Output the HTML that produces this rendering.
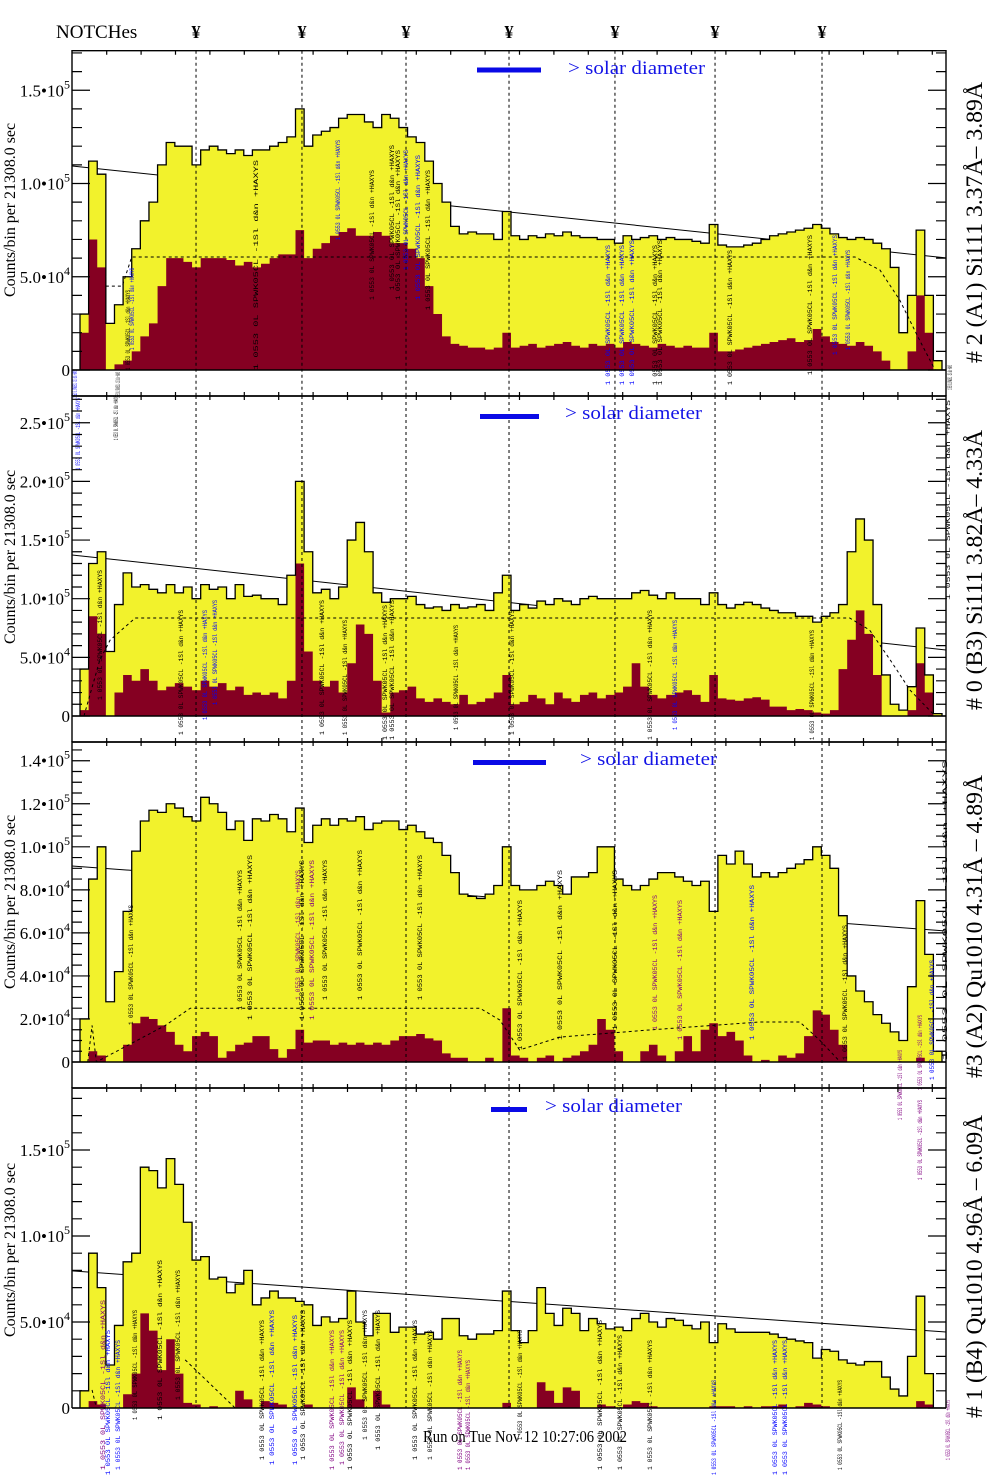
<!DOCTYPE html>
<html><head><meta charset="utf-8"><title>NOTCHes spectra</title>
<style>
html,body{margin:0;padding:0;background:#fff;}
svg{display:block;font-family:"Liberation Serif",serif;}
</style></head>
<body>
<svg id="chart" xmlns="http://www.w3.org/2000/svg" width="1004" height="1477" viewBox="0 0 1004 1477">
<rect x="0" y="0" width="1004" height="1477" fill="#fff"/>
<text x="56" y="38" font-size="19">NOTCHes</text>
<text x="423" y="1442" font-size="17" textLength="204" lengthAdjust="spacingAndGlyphs">Run on Tue Nov 12 10:27:06 2002</text>
</svg>
<script>
// ---------- data (counts in thousands, one value per channel bin) ----------
const notchBins = [13.46,25.75,37.82,49.77,62.06,73.67,86.08];

const p1Yellow = [30,112,105,25,35,50,65,80,90,110, 122,120,120,110,118,120,118,116,118,115, 118,118,120,122,125,140,120,126,128,130, 135,137,137,133,130,137,135,130,125,122, 112,100,90,77,73,74,73,73,70,85, 72,70,72,71,73,72,74,72,71,71, 70,70,68,72,70,71,72,70,71,70, 70,69,68,78,67,66,66,67,68,70, 72,73,74,75,76,78,76,73,71,70, 71,70,68,65,55,20,40,75,40,5];
const p1Maroon = [20,70,55,0,3,5,10,18,25,45, 60,60,58,55,60,60,60,59,56,58, 55,57,60,62,62,75,60,65,68,72, 74,76,72,72,74,72,68,68,65,60, 45,30,18,14,13,12,12,11,12,20, 12,13,14,12,13,14,15,13,12,14, 13,14,12,15,14,13,12,14,13,12, 13,12,12,20,10,10,11,12,13,14, 15,16,17,15,16,22,18,15,14,13, 15,13,10,5,0,0,10,40,20,0];
const p1Fit = [109.4,60.1];
const p1RefX = [3.0,4.9,6.0,89.9,92.8,95.1,97.4,99.2];
const p1RefY = [45,45,60.6,60.6,53.6,37.5,16,0];

const p2Yellow = [40,130,140,55,95,122,110,112,108,105, 112,105,110,100,112,108,110,100,112,102, 103,100,100,95,120,200,140,105,108,100, 110,150,165,140,105,97,100,100,102,95, 92,93,90,95,92,93,95,90,105,120, 90,95,92,98,95,100,98,95,100,102, 100,100,100,100,105,107,103,100,105,100, 100,100,95,105,95,92,95,97,95,92, 90,88,88,85,85,80,85,88,95,140, 168,150,95,35,10,5,25,75,35,2];
const p2Maroon = [5,85,70,0,20,35,30,40,30,22, 25,28,25,22,30,25,28,22,25,18, 20,18,20,15,30,130,55,30,25,30, 20,45,78,70,30,3,20,22,25,15, 12,15,12,10,18,10,12,15,20,35, 10,12,18,15,10,20,15,12,18,20, 15,18,20,25,45,25,18,15,18,20, 22,18,12,35,15,14,13,15,16,14, 8,8,5,6,5,3,2,5,40,65, 90,70,35,0,0,0,5,45,20,0];
const p2Fit = [137.3,56.3];
const p2RefX = [0.46,2.3,3.5,6.4,89.3,91.6,94,96.3,99.2];
const p2RefY = [0,47.7,64.8,83.5,83.5,73.3,47.7,22,0];

const p3Yellow = [20,85,100,28,42,70,98,112,117,116, 120,118,114,112,123,120,116,108,112,103, 113,112,115,113,107,118,102,110,113,110, 113,112,114,108,111,112,112,108,110,107, 104,102,96,88,78,77,76,78,82,100, 82,80,80,82,84,82,78,86,86,88, 100,100,85,82,80,82,85,88,88,86, 84,82,84,70,96,92,98,92,86,88, 86,88,90,92,94,100,96,90,68,40, 33,28,22,18,14,10,35,75,50,5];
const p3Maroon = [0,5,3,0,0,8,18,21,20,17, 14,8,5,12,14,12,2,5,8,9, 12,12,6,2,6,15,9,10,10,8, 9,8,9,8,9,8,10,12,12,13, 11,10,4,2,2,0,0,2,0,25, 3,2,0,2,3,0,2,3,5,8, 20,15,5,0,0,5,8,3,0,5, 12,5,15,18,12,14,10,3,0,1, 0,3,2,4,12,24,22,15,8,0, 0,0,0,0,0,0,0,2,0,0];
const p3Fit = [91.1,60.9];
const p3RefX = [0.9,1.4,1.9,9.9,12.8,46.4,48.7,51,55.7,66.1,78.9,83.5,85.8,88.2];
const p3RefY = [0,17,0,17,25,25,19.5,5.6,11.6,14.9,18.6,18.6,10.2,0];

const p4Yellow = [10,90,70,25,48,85,90,140,138,128, 145,130,108,86,88,75,76,67,72,80, 60,64,68,64,64,62,60,48,53,50, 52,68,50,42,55,55,44,47,47,43, 44,40,52,52,42,40,43,43,45,68, 45,38,45,70,55,48,58,55,45,52, 49,46,47,45,52,55,50,47,52,51, 48,46,50,38,49,46,44,44,44,44, 43,41,40,39,38,29,34,33,28,26, 25,27,27,18,11,7,30,65,20,0];
const p4Maroon = [0,4,2,0,0,8,20,55,45,22, 40,20,3,2,0,1,0,0,10,5, 0,4,3,2,0,0,2,0,0,0, 0,12,5,0,10,2,0,0,0,0, 0,0,0,0,0,0,0,0,0,3, 0,0,0,15,10,3,12,10,0,0, 2,1,0,2,4,3,1,0,0,0, 0,0,0,1,1,1,0,1,0,1, 1,2,0,1,3,2,1,0,0,0, 0,0,0,0,0,0,0,4,2,0];
const p4Fit = [79.7,44.2];
const p4RefX = [1.4,1.9,null,12.2,18];
const p4RefY = [10.5,0,null,28,0];

const titles = ["# 2 (A1) Si111  3.37\u00c5\u2013 3.89\u00c5","# 0 (B3) Si111  3.82\u00c5\u2013 4.33\u00c5","#3 (A2) Qu1010  4.31\u00c5 \u2013 4.89\u00c5","# 1 (B4) Qu1010 4.96\u00c5 \u2013 6.09\u00c5"];
const yTitle = "Counts/bin per  21308.0 sec";

// ---------- layout (not data) ----------
const L = 72, R = 946;
const layouts = [
 {top:50.7, bottom:396, zero:370, ppk:1.865, minor:10, major:50, max:172, tc:[82,363], yt:210, bar:[477,541,70], leg:[568,74]},
 {top:396, bottom:742, zero:716, ppk:1.173, minor:10, major:50, max:272, tc:[430,710], yt:557, bar:[480,539,416.5], leg:[565,419]},
 {top:742, bottom:1088, zero:1062, ppk:2.152, minor:5, major:20, max:148, tc:[775,1078], yt:902, bar:[473,546,762.5], leg:[580,765]},
 {top:1088, bottom:1408, zero:1408, ppk:1.72, minor:10, major:50, max:186, tc:[1115,1418], yt:1250, bar:[491,527,1109.5], leg:[545,1112]}
];
const series = [
 [p1Yellow,p1Maroon,p1Fit,p1RefX,p1RefY],
 [p2Yellow,p2Maroon,p2Fit,p2RefX,p2RefY],
 [p3Yellow,p3Maroon,p3Fit,p3RefX,p3RefY],
 [p4Yellow,p4Maroon,p4Fit,p4RefX,p4RefY]
];
const annotLayout = [
 [[75,398,370,'b'],[118,398,372,'k'],[128,370,290,'k'],[132,350,268,'b'],[256,370,160,'k'],[338,240,140,'b'],[372,300,170,'k'],[392,290,145,'k'],[398,300,150,'k'],[406,270,150,'b'],[418,300,155,'b'],[428,310,170,'k'],[608,385,245,'b'],[622,385,245,'b'],[632,385,240,'b'],[655,385,245,'k'],[660,385,240,'k'],[730,385,250,'k'],[810,375,235,'k'],[835,355,235,'b'],[848,350,250,'b'],[950,390,365,'k']],
 [[78,470,398,'b'],[116,440,396,'k'],[100,700,570,'k'],[181,735,610,'k'],[205,720,610,'b'],[215,705,600,'b'],[322,735,600,'k'],[345,735,620,'k'],[385,740,605,'k'],[392,740,600,'k'],[456,730,625,'k'],[512,735,610,'k'],[650,740,610,'k'],[675,730,620,'b'],[812,740,630,'k'],[948,600,400,'k']],
 [[131,1025,905,'k'],[240,1010,870,'k'],[250,1020,855,'k'],[298,1000,870,'p'],[302,1020,860,'k'],[312,1020,860,'p'],[325,1000,860,'k'],[360,1000,850,'k'],[420,1000,855,'k'],[520,1050,900,'k'],[560,1040,870,'k'],[615,1030,870,'k'],[655,1030,895,'p'],[680,1040,900,'p'],[752,1040,885,'b'],[845,1060,925,'k'],[900,1120,1050,'p'],[920,1090,1015,'p'],[932,1080,960,'b'],[945,1060,760,'k']],
 [[103,1470,1300,'p'],[108,1475,1330,'b'],[118,1470,1340,'b'],[135,1420,1310,'k'],[160,1420,1260,'k'],[178,1400,1270,'k'],[262,1460,1320,'k'],[272,1465,1310,'b'],[295,1465,1315,'b'],[303,1460,1310,'k'],[332,1470,1330,'p'],[342,1465,1330,'p'],[350,1470,1320,'k'],[365,1440,1310,'k'],[378,1450,1310,'k'],[415,1460,1320,'k'],[430,1460,1330,'k'],[460,1470,1350,'p'],[468,1470,1360,'p'],[520,1440,1330,'k'],[600,1470,1320,'k'],[620,1470,1335,'k'],[650,1470,1340,'k'],[714,1475,1380,'b'],[775,1475,1340,'b'],[785,1475,1340,'b'],[840,1470,1380,'k'],[920,1180,1100,'p'],[948,1460,1400,'p']]
];
const annotColors = {k:'#000000', b:'#0000ff', p:'#800080'};

const svg = document.getElementById('chart');
const NS = 'http://www.w3.org/2000/svg';
function mk(tag, parent){ const e = document.createElementNS(NS, tag); parent.appendChild(e); return e; }
const X = b => 80 + b * 8.62;

function stepPath(vals, Y, close){
  let d = 'M' + X(0) + ',' + Y(0);
  for (let i = 0; i < vals.length; i++){
    d += 'L' + X(i) + ',' + Y(vals[i]) + 'L' + X(i+1) + ',' + Y(vals[i]);
  }
  d += 'L' + X(vals.length) + ',' + Y(0);
  if (close) d += 'Z';
  return d;
}
function fmtLabel(v){
  if (v === 0) return ['0', ''];
  const e = Math.floor(Math.log10(v * 1000));
  const m = (v * 1000) / Math.pow(10, e);
  return [m.toFixed(1) + '\u202210', String(e)];
}

layouts.forEach((lay, p) => {
  const [yel, mar, fit, refX, refY] = series[p];
  const Y = v => lay.zero - v * lay.ppk;
  const g = mk('g', svg);
  
  

  // clip
  const cp = mk('clipPath', g); cp.setAttribute('id', 'clip' + p);
  const cr = mk('rect', cp);
  cr.setAttribute('x', L); cr.setAttribute('y', lay.top); cr.setAttribute('width', R - L); cr.setAttribute('height', lay.zero - lay.top);
  const inner = mk('g', g); inner.setAttribute('clip-path', 'url(#clip' + p + ')');
  
  

  // fit line (behind yellow)
  const fl = mk('line', inner);
  
  
  fl.setAttribute('x1', L); fl.setAttribute('x2', R);
  fl.setAttribute('y1', Y(fit[0])); fl.setAttribute('y2', Y(fit[1]));
  fl.setAttribute('stroke', '#000'); fl.setAttribute('stroke-width', '1');

  const yf = mk('path', inner);
  
  
  yf.setAttribute('d', stepPath(yel, Y, true)); yf.setAttribute('fill', '#f2f22c');

  const mf = mk('path', inner);
  
  
  mf.setAttribute('d', stepPath(mar, Y, true)); mf.setAttribute('fill', '#850022');

  const ol = mk('path', inner);
  
  
  ol.setAttribute('d', stepPath(yel, Y, false)); ol.setAttribute('fill', 'none');
  ol.setAttribute('stroke', '#000'); ol.setAttribute('stroke-width', '1.3');

  // reference dashed curve
  let d = '', pen = false;
  for (let i = 0; i < refX.length; i++){
    if (refX[i] === null){ pen = false; continue; }
    d += (pen ? 'L' : 'M') + X(refX[i]) + ',' + Y(refY[i]); pen = true;
  }
  const rl = mk('path', inner);
  
  
  rl.setAttribute('d', d); rl.setAttribute('fill', 'none'); rl.setAttribute('stroke', '#000');
  rl.setAttribute('stroke-width', '1'); rl.setAttribute('stroke-dasharray', '3,3');

  // notch lines
  notchBins.forEach((nb, k) => {
    const nl = mk('line', g);
    
    
    nl.setAttribute('x1', X(nb)); nl.setAttribute('x2', X(nb));
    nl.setAttribute('y1', lay.top); nl.setAttribute('y2', lay.bottom);
    nl.setAttribute('stroke', '#000'); nl.setAttribute('stroke-width', '1'); nl.setAttribute('stroke-dasharray', '3,3');
    if (p === 0){
      const yt = mk('text', svg);
      
      
      yt.setAttribute('x', X(nb)); yt.setAttribute('y', 38); yt.setAttribute('text-anchor', 'middle');
      yt.setAttribute('font-size', '18'); yt.setAttribute('font-weight', 'bold');
      yt.textContent = '\u00a5';
    }
  });

  // annotations
  annotLayout[p].forEach(a => {
    const t = mk('text', g);
    
    
    t.setAttribute('x', 0); t.setAttribute('y', 0);
    t.setAttribute('transform', 'translate(' + (a[0] + 2) + ',' + a[1] + ') rotate(-90)');
    t.setAttribute('font-size', '6'); t.setAttribute('font-family', 'Liberation Mono, monospace');
    t.setAttribute('fill', annotColors[a[3]]);
    t.setAttribute('textLength', a[1] - a[2]); t.setAttribute('lengthAdjust', 'spacingAndGlyphs');
    t.textContent = '1 0553 0L SPWK05CL -1Sl d&n +HAXYS';
  });

  // frame
  const fr = mk('path', g);
  
  
  let fd = 'M' + L + ',' + lay.bottom + 'L' + L + ',' + lay.top + 'L' + R + ',' + lay.top + 'L' + R + ',' + lay.bottom;
  if (p < 3) fd += 'M' + L + ',' + lay.bottom + 'L' + R + ',' + lay.bottom;
  fd += 'M' + L + ',' + lay.zero + 'L' + R + ',' + lay.zero;
  fr.setAttribute('d', fd); fr.setAttribute('fill', 'none'); fr.setAttribute('stroke', '#000'); fr.setAttribute('stroke-width', '1.4');

  // y ticks + labels
  let td = '';
  for (let v = 0; v <= lay.max + 0.001; v += lay.minor){
    const yy = Y(v); if (yy < lay.top) break;
    const isMaj = Math.abs(v / lay.major - Math.round(v / lay.major)) < 1e-6;
    const len = isMaj ? 18 : 10;
    td += 'M' + L + ',' + yy + 'L' + (L + len) + ',' + yy + 'M' + R + ',' + yy + 'L' + (R - len) + ',' + yy;
    if (isMaj){
      const [base, sup] = fmtLabel(v);
      const t = mk('text', g);
      
      
      t.setAttribute('x', 70); t.setAttribute('y', yy + 6); t.setAttribute('text-anchor', 'end'); t.setAttribute('font-size', '17');
      const s1 = mk('tspan', t); s1.textContent = base;
      if (sup){ const s2 = mk('tspan', t); s2.setAttribute('dy', '-8'); s2.setAttribute('font-size', '12'); s2.textContent = sup; }
    }
  }
  for (let x = 106.7; x < R - 5; x += 34.4){
    td += 'M' + x + ',' + lay.top + 'L' + x + ',' + (lay.top + 4);
    if (p < 3) td += 'M' + x + ',' + lay.bottom + 'L' + x + ',' + (lay.bottom - 4);
  }
  const tk = mk('path', g);
  
  
  tk.setAttribute('d', td); tk.setAttribute('stroke', '#000'); tk.setAttribute('stroke-width', '1.2');

  // y axis title
  const yt = mk('text', g);
  
  
  yt.setAttribute('transform', 'translate(15,' + lay.yt + ') rotate(-90)');
  yt.setAttribute('text-anchor', 'middle'); yt.setAttribute('font-size', '16');
  yt.setAttribute('textLength', '174'); yt.setAttribute('lengthAdjust', 'spacingAndGlyphs');
  yt.textContent = yTitle;

  // right title
  const rt = mk('text', g);
  
  
  rt.setAttribute('transform', 'translate(982,' + lay.tc[1] + ') rotate(-90)');
  rt.setAttribute('font-size', '23');
  rt.setAttribute('textLength', lay.tc[1] - lay.tc[0]); rt.setAttribute('lengthAdjust', 'spacingAndGlyphs');
  rt.textContent = titles[p];

  // legend
  const lb = mk('line', g);
  
  
  lb.setAttribute('x1', lay.bar[0]); lb.setAttribute('x2', lay.bar[1]); lb.setAttribute('y1', lay.bar[2]); lb.setAttribute('y2', lay.bar[2]);
  lb.setAttribute('stroke', '#0a0ae6'); lb.setAttribute('stroke-width', '5');
  const lt = mk('text', g);
  
  
  lt.setAttribute('x', lay.leg[0]); lt.setAttribute('y', lay.leg[1]); lt.setAttribute('font-size', '19'); lt.setAttribute('fill', '#1414e6');
  lt.setAttribute('textLength', '137'); lt.setAttribute('lengthAdjust', 'spacingAndGlyphs');
  lt.textContent = '> solar diameter';
});
</script>
</body></html>
